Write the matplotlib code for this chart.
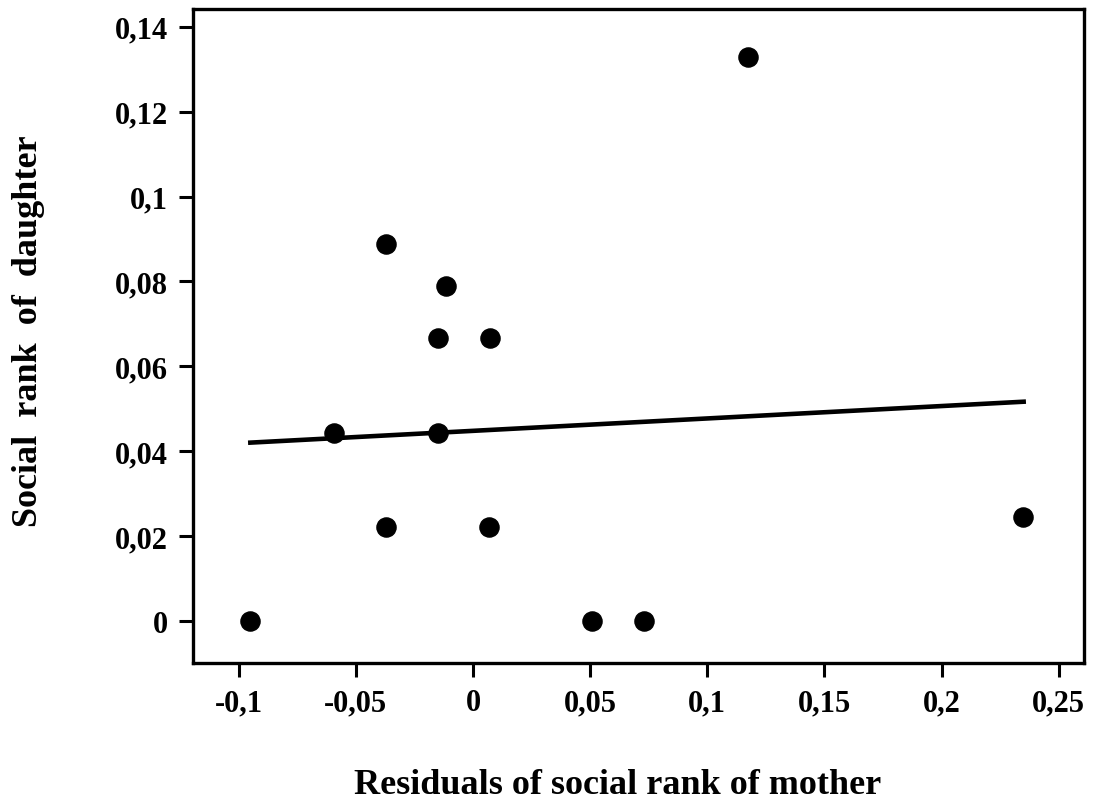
import matplotlib
matplotlib.use("Agg")
import matplotlib.pyplot as plt

# residual of mother's rank vs daughter's rank
resid_mother = [-0.0952, -0.0593, -0.0372, -0.0371, -0.0151, -0.0148, -0.0117,
                0.0068, 0.0073, 0.0508, 0.0730, 0.1175, 0.2349]
rank_daughter = [0.0, 0.0443, 0.0889, 0.0221, 0.0667, 0.0443, 0.0790,
                 0.0221, 0.0667, 0.0, 0.0, 0.1329, 0.0244]

# fitted regression line, end points
fit_x = [-0.096, 0.236]
fit_y = [0.0420, 0.0517]

xticks = [-0.1, -0.05, 0, 0.05, 0.1, 0.15, 0.2, 0.25]
xticklabels = ["-0,1", "-0,05", "0", "0,05", "0,1", "0,15", "0,2", "0,25"]
yticks = [0, 0.02, 0.04, 0.06, 0.08, 0.1, 0.12, 0.14]
yticklabels = ["0", "0,02", "0,04", "0,06", "0,08", "0,1", "0,12", "0,14"]

plt.rcParams['font.family'] = ['Liberation Serif', 'DejaVu Serif']
plt.rcParams['font.weight'] = 'bold'

fig = plt.figure(figsize=(10.94, 8.03), dpi=100)
ax = fig.add_axes([0.1764, 0.1731, 0.8145, 0.8144])

ax.scatter(resid_mother, rank_daughter, s=190, color='black', zorder=3)
ax.plot(fit_x, fit_y, color='black', lw=3.3, solid_capstyle='butt', zorder=2)

ax.set_xlim(-0.1195, 0.2608)
ax.set_ylim(-0.0099, 0.1442)
ax.set_xticks(xticks)
ax.set_xticklabels(xticklabels, fontsize=22, fontweight='bold')
ax.set_yticks(yticks)
ax.set_yticklabels(yticklabels, fontsize=22, fontweight='bold')
ax.tick_params(direction='out', length=10, width=2.2, pad=8)

for sp in ax.spines.values():
    sp.set_linewidth(2.4)

# axis titles sit well away from the frame
fig.text(0.565, 0.0224, "Residuals of social rank of mother", ha='center', va='center',
         fontsize=26, fontweight='bold')
fig.text(0.0256, 0.5878, "Social  rank  of  daughter", ha='center', va='center',
         rotation=90, fontsize=26, fontweight='bold')

fig.savefig("out.png", dpi=100)
